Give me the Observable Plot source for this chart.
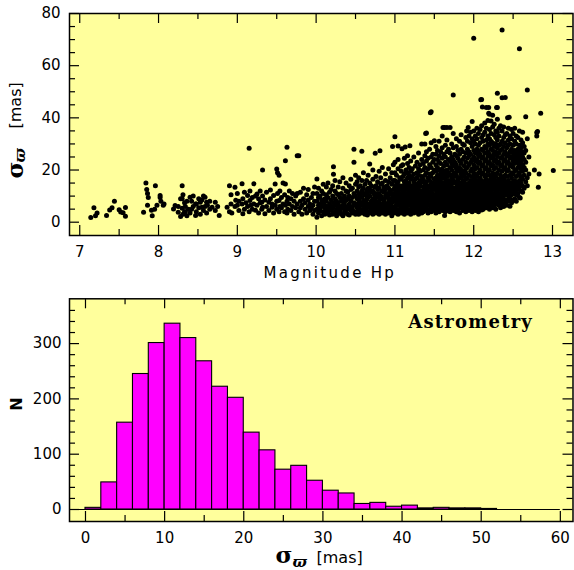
<!DOCTYPE html>
<html><head><meta charset="utf-8">
<script src="https://cdn.jsdelivr.net/npm/d3@7"></script>
<script src="https://cdn.jsdelivr.net/npm/@observablehq/plot@0.6"></script>
<style>
html,body{margin:0;padding:0;background:#fff;}
#chart{width:574px;}
#chart svg{display:block;}
</style></head><body><div id="chart"></div>
<script>
// ---------- DATA: top panel (Hp magnitude vs sigma_varpi), grouped by magnitude ----------
const magnitudeColumns = [
[7.14,[1.8]],[7.18,[5.5]],[7.20,[2.5]],[7.22,[3.5]],[7.34,[2.6]],[7.38,[4.7]],[7.41,[5.5]],[7.44,[8]],[7.50,[4.8]],[7.52,[3.9]],[7.55,[3.6]],[7.58,[5.6,2.3]],
[7.81,[3.8]],[7.84,[15]],[7.85,[12.5]],[7.86,[11,6.5]],[7.87,[9.5]],[7.91,[4.6]],[7.92,[2.5]],[7.96,[14]],[7.95,[5]],[7.98,[6.5]],[8.02,[9.5,10.2]],[8.03,[8]],[8.06,[6.5]],[8.07,[7]],
[8.19,[5.1]],[8.21,[6.4]],[8.25,[3.8,6]],[8.28,[2.2,9]],[8.30,[14,9,5.3]],[8.31,[10.5,3]],[8.33,[7.5,4]],[8.34,[4,6]],[8.36,[8,2.5]],[8.38,[5]],[8.40,[9.6,3.5]],[8.42,[8,5]],[8.44,[6,10]],[8.47,[2.6,7]],[8.48,[7,4]],[8.51,[9,5.5]],[8.53,[7.6,3]],[8.55,[5.7,8.5]],[8.57,[4.5,10]],[8.59,[9.6,6]],[8.61,[7.6,3.5]],[8.62,[6.5]],[8.65,[5,8]],[8.68,[5.7]],[8.72,[7.6,4.5]],[8.75,[6]],[8.77,[2.6]],
[8.87,[5.7]],[8.90,[14,4]],[8.92,[10.5,7]],[8.93,[3.5]],[8.97,[13.4,6]],[8.98,[8.4]],[9.00,[6.5,11]],[9.02,[8,4.5]],[9.06,[14.7,7]],[9.07,[3.2,9]],[9.09,[5,11.5]],[9.11,[7.5]],[9.13,[10.2,6]],[9.15,[28.3,4]],[9.16,[8.3,12]],[9.17,[6.5]],[9.19,[9.5,5]],[9.21,[14.7,7]],[9.23,[4.6,10]],[9.25,[10.8,6.5]],[9.27,[9,3.5]],[9.29,[12,7.5]],[9.31,[7.6,5]],[9.32,[20,5.7,10]],[9.35,[3.2,8.5]],[9.37,[6,11.5]],[9.40,[7.6,4.5]],[9.42,[12.3,9]],[9.44,[5.7,7]],[9.46,[10.2,3.5]],[9.48,[14.6,6.5]],
[9.50,[20.4,8,5]],[9.51,[19,11]],[9.53,[18,8.3,4]],[9.54,[12,6]],[9.56,[5.5,9.5]],[9.58,[15,7]],[9.60,[4,10.5]],[9.61,[23.6,14.6,6.5]],[9.63,[28.7,3.5,8]],[9.64,[9.5,5]],[9.66,[12,7]],[9.68,[4.5,9]],[9.70,[6,11]],[9.72,[8,3]],[9.74,[10,5.5]],[9.76,[25.5,11,7]],[9.78,[25.5,4]],[9.80,[11.5,8,5.5]],[9.82,[6.5,3]],[9.84,[9,13]],[9.86,[5,7.5]],[9.88,[10.5,3.5]],[9.90,[6,8.5,12.5]],[9.92,[4.5,7]],[9.94,[9.5,5.5]],[9.96,[3,11,6.5]],[9.98,[8,4.5,13.5]],
[10.01,[1.9,5,8,11,16.6]],[10.03,[3.5,6.5,9.5,13]],[10.05,[4.5,7,10,5.5]],[10.07,[2.5,6,8.5,12]],[10.09,[4,7.5,11,14.5]],[10.11,[3,5.5,9,6.5]],[10.13,[5,8,10.5,13.5,4]],[10.15,[3.5,6,9.5,15]],[10.17,[2.8,7,11.5,5]],[10.19,[4.5,8.5,6,12.5]],[10.21,[3,5.5,10,14]],[10.22,[21.3,18.4,7.5]],[10.24,[4,6.5,9,12,16]],[10.26,[2.5,5,8,11]],[10.28,[3.5,7,10.5,13.5,6]],[10.30,[4.5,6,9.5,15.5]],[10.32,[3,8,11,5.5]],[10.34,[2.5,6.5,9,13,17]],[10.36,[4,7.5,10,5]],[10.38,[3.5,6,12,8.5,15]],[10.40,[5,9,11.5,3]],[10.42,[2.8,7,10,14,6]],[10.44,[4.5,8,12.5,16.5]],[10.46,[3.5,6,9.5,5,13]],[10.48,[28,23,4,7.5,11]],[10.50,[3,6.5,10,14.5,18]],
[10.52,[4,7,9,12,5.5,15.5]],[10.54,[3,6,8.5,11,13.5,17]],[10.56,[4.5,7.5,10,5,14]],[10.58,[27.2,3.5,6.5,9.5,12,16]],[10.60,[5,8,11,4,13,19]],[10.62,[3,6,7.5,10.5,14.5]],[10.64,[4.5,8.5,12,5.5,16,9]],[10.65,[2.8,7,11]],[10.66,[6,9.5,13,4,18]],[10.68,[22.3,3.5,7,10,12.5,15]],[10.70,[5,8,11.5,6,14,4.5]],[10.72,[3,6.5,9,12,16.5,20]],[10.74,[4,7.5,10.5,13.5,5.5]],[10.75,[26.4,8.5,11]],[10.76,[3.5,6,9.5,14,17.5]],[10.78,[5,7,10,12.5,4.5,15.5]],[10.80,[3,8,11,13,6,19.5]],[10.81,[27.4,9]],[10.82,[4.5,7,10,14.5,5.5,17]],[10.84,[3.5,6.5,9,12,15,21]],[10.86,[5,8.5,11.5,13.5,4,7.5]],[10.88,[3,6,10,12.5,16,18.5]],[10.90,[4.5,7,9.5,14,5.5,11]],[10.92,[3.5,8,10.5,13,15.5,20.5]],[10.94,[5,6.5,9,12,17,4]],[10.96,[2.5,7.5,11,14.5,6,19]],[10.97,[29,9.5]],[10.98,[4,8,10,12.5,16,5.5,22]],
[11.00,[32.8,3.5,6,8.5,11,13.5,16,19,23]],[11.02,[4.5,7,9.5,12,14.5,18,5,10.5]],[11.04,[29.2,3,6.5,8,11.5,13,15.5,20.5,24]],[11.06,[5,7.5,10,12.5,17,4,9,14]],[11.08,[3.5,6,8.5,11,13.5,16.5,19.5,21.5,7]],[11.09,[28.2,10.5,5.5]],[11.10,[4,7,9.5,12,14,17.5,22,6.5]],[11.12,[5.5,8,10.5,13,15.5,18.5,3,11.5,24.5]],[11.13,[28.8,7.5]],[11.14,[4.5,6,9,12.5,14.5,16,20,10]],[11.16,[25.5,3.5,7,8.5,11,13.5,17,19,22.5,5]],[11.18,[4,6.5,9.5,12,15,18,21,10.5,14]],[11.19,[29.3,7]],[11.20,[5,8,11,13,16.5,19.5,23.5,3,9]],[11.22,[4.5,6,9.5,12.5,14,17.5,20.5,11]],[11.24,[3.5,7,8.5,10.5,13.5,15.5,18.5,25,6]],[11.26,[5.5,8,10,12,14.5,16.5,21.5,4,9.5]],[11.28,[4,6.5,9,11.5,13,17,19,23,7.5]],[11.30,[3,5.5,8.5,10.5,12.5,15,18,20.5,26.5,13.5]],[11.32,[4.5,7,9.5,11,14,16,19.5,22,6]],[11.34,[5,8,10,12,15.5,17.5,24,3.5,30]],[11.36,[4,6.5,9,11.5,13.5,16.5,20,22.5,8]],[11.38,[30,5.5,7.5,10.5,12.5,14.5,18,21,25.5]],[11.39,[34,9.5]],[11.40,[34.2,4.5,6,9,11,13,15.5,19,23.5,27]],[11.41,[4.6,8]],[11.42,[3.5,7,10,12,14,17,20.5,24.5,11.5]],[11.44,[5,8.5,10.5,13.5,16,18.5,22,6.5,28]],[11.45,[42,9.5]],[11.46,[42.3,4,7,9,12,14.5,17.5,21,25,30.5]],[11.48,[5.5,8,11,13,15,19,23,26,6]],[11.50,[31.2,4.5,7.5,10,12.5,14,16.5,20,24,9]],
[11.52,[3.5,6,8.5,10.5,12.5,15,17,19.5,22,26,29,13.5]],[11.54,[5,7,9.5,11.5,13.5,16,18,21,24,11,27.5]],[11.56,[4,6.5,8,10,12,14.5,17.5,20,23,25.5,31]],[11.58,[5.5,7.5,9,11,13,15.5,16.5,19,22.5,27,10.5]],[11.60,[4.5,6,8.5,10.5,12.5,14,18,20.5,24.5,28.5,33]],[11.61,[36.3,11.5]],[11.62,[5,7,9.5,11,13.5,15,17,19.5,21.5,26,8]],[11.63,[2.6,36.3]],[11.64,[6,8,10,12,14.5,16.5,18.5,23,25,29.5,4]],[11.66,[36.3,4.5,7,9,11.5,13,15.5,17.5,20,22,27,31.5]],[11.68,[5.5,6.5,8.5,10.5,12.5,14,16,19,24,28,11]],[11.70,[36.3,4,7.5,9.5,11,13.5,15,18,21,23.5,26.5]],[11.72,[5,6,8,10,12,14.5,17,20,22.5,25,30]],[11.74,[48.8,4.5,7,9,11.5,13,16,18.5,21.5,24,28.5,34]],[11.76,[5.5,6.5,8.5,10.5,12.5,15,17.5,19,23,26,12]],[11.78,[4,7.5,9.5,11,13.5,15.5,18,20.5,22,25.5,29,32]],[11.80,[5,6,8,10,12,14,16.5,19.5,24.5,27.5,9]],[11.82,[3.5,7,9,11.5,13,15,17,21,23.5,26,31]],[11.84,[5.5,6.5,8.5,10.5,12.5,14.5,18.5,20,22.5,28,33.5]],[11.86,[4.5,7.5,9.5,11,13.5,16,17.5,19.5,24,27,30]],[11.88,[5,6,8,10,12,14,15.5,18,21.5,25,29.5,11.5]],[11.90,[4,7,9,11.5,13,16.5,19,20.5,23,26.5,32.5]],[11.91,[4.8,35]],[11.92,[5.5,6.5,8.5,10.5,12.5,14.5,17,21,24.5,28,31]],[11.93,[36.3]],[11.94,[4.5,7.5,9.5,11,13.5,15,18,22,25.5,27,33]],[11.96,[5,6,8,10,12,14,16,19.5,23,26,30.5,34.5]],[11.98,[38.6,4,7,9,11.5,13,15.5,17.5,20.5,24,29,32]],
[12.00,[70.5,5.5,6.5,8.5,10.5,12.5,14.5,16.5,19,22,25,27.5,31,35]],[12.02,[4.5,7.5,9.5,11,13.5,15,18,20.5,23.5,26.5,30,33]],[12.04,[5,6,8,10,12,14,16,17.5,21,24,28,32,36]],[12.06,[4,7,9,11.5,13,15.5,19,22.5,25.5,27,29.5,34]],[12.08,[5.5,6.5,8.5,10.5,12.5,14.5,17,20,23,26,30.5,35.5]],[12.09,[46.9]],[12.10,[47,4.7,7.5,9.5,11,13.5,16,18.5,21.5,24.5,28,32.5,37]],[12.11,[44.2]],[12.12,[5,6,8,10,12,14,15.5,19,22,25,27.5,31,33.5]],[12.14,[6.5,7,9,11.5,13,15,17.5,20.5,23.5,26.5,29,34.5,38]],[12.16,[44,5.5,8.5,10.5,12.5,14.5,16.5,18,21,24,28.5,31.5,36]],[12.18,[6,7.5,9.5,11,13.5,15.5,19.5,22.5,25.5,27,30,33,39]],[12.19,[44,41.8]],[12.20,[5,8,10,12,14,16,18,20,23,26,29.5,32,35.5,41.4]],[12.22,[6.5,7,9,11.5,13,15,17,21.5,24.5,28,31,34,38.8]],[12.24,[41,5.5,8.5,10.5,12.5,14.5,16.5,19,22,25,27.5,30.5,36.5]],[12.26,[6,7.5,9.5,11,13.5,15.5,18,20.5,23.5,26,29,33.5,37.5]],[12.28,[5,8,10,12,14,16,17.5,21,24,27,30,32.5,35]],[12.29,[44]],[12.30,[49.4,44,7,9,11.5,13,15,19,22.5,25.5,28.5,31.5,34.5,39.5]],[12.32,[6.5,8.5,10.5,12.5,14.5,16.5,20,23,26.5,29.5,33,36]],[12.34,[5.5,8,9.5,11,13.5,15.5,18,21.5,24.5,27.5,30,37]],[12.35,[8]],[12.36,[73.7,47.7,7,10,12,14,17,19.5,22,25,28,31,35]],[12.38,[6,9,11.5,13,15,16.5,20.5,23.5,26,29,32.5,36.5]],[12.40,[47.8,7.5,10.5,12.5,14.5,18,21,24,27,30.5,33.5]],[12.42,[6.5,8.5,11,13.5,15.5,17.5,19.5,22.5,25.5,28.5,34]],[12.43,[40]],[12.44,[8,10,12,14,16,20,23,26,29.5,31.5,36]],[12.45,[40.2]],[12.46,[6.1,9,11.5,13,15,18,21.5,24.5,27,30,33]],[12.48,[7.5,10.5,12.5,14.5,17,19,22,25,28,32,35.5]],[12.50,[8.5,11,13.5,15.5,18.5,21,23.5,26.5,29.5,34]],
[12.52,[9,12,14,16,19.5,22.5,25,27.5,31,36]],[12.54,[8,10.5,13,15,17.5,20,24,26.5,30,33]],[12.56,[11,12.5,14.5,18,21,23,25.5,28,32.5]],[12.58,[66.5,9.5,13.5,16,19,22,24.5,27,29.5,35]],[12.59,[9.3]],[12.60,[12,15,17.5,20.5,23.5,26,28.5,31.5]],[12.62,[11.5,14,16.5,19.5,22,25,27,30.5,34.5]],[12.64,[13,18,21,24,26.5,29]],[12.66,[40.4,15.5,20,23,27.5]],[12.68,[50.7,14,17,32]],[12.70,[18.5,25]],[12.77,[20]],[12.80,[34.4,33]],[12.81,[34.8]],[12.82,[13.4]],[12.83,[18.5]],[12.85,[41.8]],[13.01,[19.8]]
];

// ---------- DATA: bottom panel histogram (bin width 2 mas) ----------
const binStart = [0,2,4,6,8,10,12,14,16,18,20,22,24,26,28,30,32,34,36,38,40,42,44,46,48,50];
const binCount = [3,49,157,245,301,336,310,268,222,202,139,107,72,79,52,34,29,10,12,5,7,2,3,2,2,1];
const binWidth = 2;
const histRangeEnd = 60;

// ---------- ticks ----------
const magTickLabels = [7,8,9,10,11,12,13];
const magMinorTicks = [7.5,8.5,9.5,10.5,11.5,12.5];
const sigmaTickLabels = [0,20,40,60,80];
const sigmaMinorTicks = [5,10,15,25,30,35,45,50,55,65,70,75];
const histXTickLabels = [0,10,20,30,40,50,60];
const histXMinorTicks = [5,15,25,35,45,55];
const histYTickLabels = [0,100,200,300];
const histYMinorTicks = [20,40,60,80,120,140,160,180,220,240,260,280,320,340,360];

const stars = magnitudeColumns.flatMap(([mag, sigmas]) => sigmas.map(s => ({mag, sigma: s})));
const bins = binStart.map((b, i) => ({x0: b, x1: b + binWidth, n: binCount[i]}));

const YELLOW = "#ffff9c";
const W = 574;
const baseStyle = {fontFamily: "DejaVu Sans, sans-serif", fontSize: "15px", background: "white", color: "black", overflow: "visible"};

function frameTicks(xMajor, xMinor, yMajor, yMinor, innerW, innerH) {
  const sw = 1.2, maj = 10, mnr = 6;
  return [
    Plot.ruleX(xMajor, {insetTop: innerH - maj, stroke: "black", strokeWidth: sw}),
    Plot.ruleX(xMajor, {insetBottom: innerH - maj, stroke: "black", strokeWidth: sw}),
    Plot.ruleX(xMinor, {insetTop: innerH - mnr, stroke: "black", strokeWidth: sw}),
    Plot.ruleX(xMinor, {insetBottom: innerH - mnr, stroke: "black", strokeWidth: sw}),
    Plot.ruleY(yMajor, {insetRight: innerW - maj, stroke: "black", strokeWidth: sw}),
    Plot.ruleY(yMajor, {insetLeft: innerW - maj, stroke: "black", strokeWidth: sw}),
    Plot.ruleY(yMinor, {insetRight: innerW - mnr, stroke: "black", strokeWidth: sw}),
    Plot.ruleY(yMinor, {insetLeft: innerW - mnr, stroke: "black", strokeWidth: sw})
  ];
}

// ---------- top panel ----------
const m1 = {top: 13, right: 1.5, bottom: 50, left: 69};
const H1 = 285;
const iw1 = W - m1.left - m1.right, ih1 = H1 - m1.top - m1.bottom;
const topPanel = Plot.plot({
  width: W, height: H1,
  marginTop: m1.top, marginRight: m1.right, marginBottom: m1.bottom, marginLeft: m1.left,
  style: baseStyle,
  x: {domain: [6.87, 13.26]},
  y: {domain: [-5.1, 80]},
  marks: [
    Plot.frame({fill: YELLOW, stroke: "none"}),
    Plot.dot(stars, {x: "mag", y: "sigma", r: 2.5, fill: "black", stroke: "none"}),
    ...frameTicks(magTickLabels, magMinorTicks, sigmaTickLabels, sigmaMinorTicks, iw1, ih1),
    Plot.frame({stroke: "black", strokeWidth: 1.5}),
    Plot.axisX(magTickLabels, {anchor: "bottom", tickSize: 0, tickPadding: 11, label: null}),
    Plot.axisY(sigmaTickLabels, {anchor: "left", tickSize: 0, tickPadding: 9, label: null}),
    Plot.text(["Magnitude Hp"], {frameAnchor: "bottom-left", dx: 194, dy: 42, textAnchor: "start", lineAnchor: "bottom", fontSize: 15}),
    Plot.text(["σ"], {frameAnchor: "left", rotate: -90, dx: -54, dy: 54, textAnchor: "start", lineAnchor: "middle", fontSize: 23, fontWeight: "bold", fontFamily: "DejaVu Serif"}),
    Plot.text(["ϖ"], {frameAnchor: "left", rotate: -90, dx: -49, dy: 38, textAnchor: "start", lineAnchor: "middle", fontSize: 15, fontWeight: "bold", fontStyle: "italic", fontFamily: "DejaVu Serif"}),
    Plot.text(["[mas]"], {frameAnchor: "left", rotate: -90, dx: -54, dy: 4, textAnchor: "start", lineAnchor: "middle", fontSize: 16})
  ]
});

// ---------- bottom panel ----------
const m2 = {top: 13.3, right: 1.5, bottom: 49, left: 69};
const H2 = 285;
const iw2 = W - m2.left - m2.right, ih2 = H2 - m2.top - m2.bottom;
const bottomPanel = Plot.plot({
  width: W, height: H2,
  marginTop: m2.top, marginRight: m2.right, marginBottom: m2.bottom, marginLeft: m2.left,
  style: baseStyle,
  x: {domain: [-2.02, 61.6]},
  y: {domain: [-21.7, 381]},
  marks: [
    Plot.frame({fill: YELLOW, stroke: "none"}),
    Plot.ruleY([0], {x1: -2.02, x2: histRangeEnd, stroke: "black", strokeWidth: 1.2}),
    Plot.rect(bins, {x1: "x0", x2: "x1", y1: () => 0, y2: "n", fill: "#ff00ff", stroke: "black", strokeWidth: 1.1}),
    ...frameTicks(histXTickLabels, histXMinorTicks, histYTickLabels, histYMinorTicks, iw2, ih2),
    Plot.frame({stroke: "black", strokeWidth: 1.5}),
    Plot.axisX(histXTickLabels, {anchor: "bottom", tickSize: 0, tickPadding: 11, label: null}),
    Plot.axisY(histYTickLabels, {anchor: "left", tickSize: 0, tickPadding: 8, label: null}),
    Plot.text(["Astrometry"], {frameAnchor: "top-right", dx: -40, dy: 29, textAnchor: "end", lineAnchor: "bottom", fontSize: 18, fontWeight: "bold", fontFamily: "DejaVu Serif"}),
    Plot.text(["N"], {frameAnchor: "left", rotate: -90, dx: -53, dy: -6, textAnchor: "middle", lineAnchor: "middle", fontSize: 16, fontWeight: "bold"}),
    Plot.text(["σ"], {frameAnchor: "bottom-left", dx: 206, dy: 41, textAnchor: "start", lineAnchor: "bottom", fontSize: 23, fontWeight: "bold", fontFamily: "DejaVu Serif"}),
    Plot.text(["ϖ"], {frameAnchor: "bottom-left", dx: 223, dy: 45, textAnchor: "start", lineAnchor: "bottom", fontSize: 15, fontWeight: "bold", fontStyle: "italic", fontFamily: "DejaVu Serif"}),
    Plot.text(["[mas]"], {frameAnchor: "bottom-left", dx: 247, dy: 41, textAnchor: "start", lineAnchor: "bottom", fontSize: 16})
  ]
});

const chart = document.getElementById("chart");
chart.appendChild(topPanel);
chart.appendChild(bottomPanel);

// letter spacing tweaks
d3.selectAll("#chart text").filter(function(){ return this.textContent === "Magnitude Hp"; }).attr("letter-spacing", 2.3);
d3.selectAll("#chart text").filter(function(){ return this.textContent === "Astrometry"; }).attr("letter-spacing", 1.2);
</script></body></html>
